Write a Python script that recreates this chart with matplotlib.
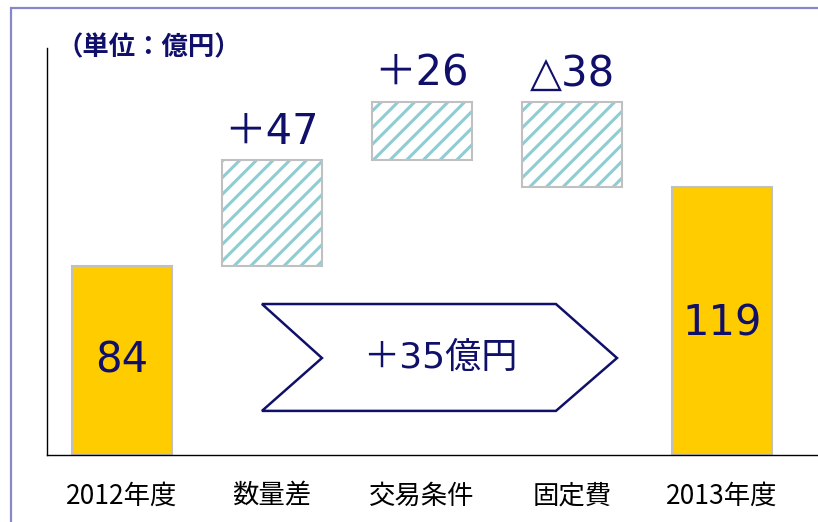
import numpy as np
import matplotlib.pyplot as plt
from matplotlib.patches import Polygon, Rectangle

plt.rcParams['font.family'] = ['DejaVu Sans', 'Noto Sans CJK JP']
plt.rcParams['hatch.linewidth'] = 2.2

# データ
categories = ["2012年度", "数量差", "交易条件", "固定費", "2013年度"]
start_value = 84
end_value = 119
deltas = [47, 26, -38]
delta_labels = ["＋47", "＋26", "△38"]
total_label = "＋35億円"
unit_label = "（単位：億円）"

NAVY = '#10106a'
YELLOW = '#ffcc00'
EDGE = '#c0c0c0'
TEAL = '#8ecdd3'

fig = plt.figure(figsize=(8.18, 5.22), dpi=100)
W, H = 818, 522
ax = fig.add_axes([47 / W, (H - 455) / H, (W - 47) / W, (455 - 48) / H])

x = np.arange(len(categories))
bw = 0.667

# 両端の棒
ax.bar([x[0], x[-1]], [start_value, end_value], width=bw, color=YELLOW,
       edgecolor=EDGE, linewidth=1.5, zorder=2)
ax.text(x[0], start_value / 2, str(start_value), ha='center', va='center',
        fontsize=30, color=NAVY)
ax.text(x[-1], end_value / 2 - 1, str(end_value), ha='center', va='center',
        fontsize=30, color=NAVY)

# 増減の棒（ハッチ）
level = start_value
for i, d in enumerate(deltas):
    lo, hi = sorted([level, level + d])
    ax.bar(x[i + 1], hi - lo, bottom=lo, width=bw, color='white',
           edgecolor=TEAL, hatch='//', linewidth=0, zorder=2)
    ax.bar(x[i + 1], hi - lo, bottom=lo, width=bw, color='none',
           edgecolor=EDGE, linewidth=1.5, zorder=3)
    ax.text(x[i + 1], hi + 3, delta_labels[i], ha='center', va='bottom',
            fontsize=30, color=NAVY)
    level += d

# 矢印（シェブロン）
chev = Polygon([(0.933, 67.1), (2.893, 67.1), (3.3, 43.1), (2.893, 19.6),
                (0.933, 19.6), (1.333, 43.1)], closed=True,
               facecolor='white', edgecolor=NAVY, linewidth=1.8, zorder=3)
ax.add_patch(chev)
ax.text(2.12, 43.1, total_label, ha='center', va='center', fontsize=26,
        color=NAVY, zorder=4)

ax.set_xlim(-0.5, (W - 122) / 150)
ax.set_ylim(0, (455 - 48) / 2.25)
ax.set_xticks(x)
ax.set_xticklabels(categories, fontsize=19, family=['Noto Sans CJK JP'])
ax.tick_params(axis='x', length=0, pad=20)
ax.set_yticks([])
ax.spines['top'].set_visible(False)
ax.spines['right'].set_visible(False)
ax.spines['left'].set_linewidth(1.0)
ax.spines['bottom'].set_linewidth(1.0)

fig.text(56 / W, 1 - 48 / H, unit_label, ha='left', va='center', fontsize=19,
         fontweight='bold', color=NAVY, family=['Noto Sans CJK JP'])

# 外枠
frame = Rectangle((11 / W, -0.1), 1.2, 1 - 8 / H + 0.1, transform=fig.transFigure,
                  facecolor='none', edgecolor='#8888c8', linewidth=1.6)
fig.patches.append(frame)

fig.savefig('out.png', dpi=100)
